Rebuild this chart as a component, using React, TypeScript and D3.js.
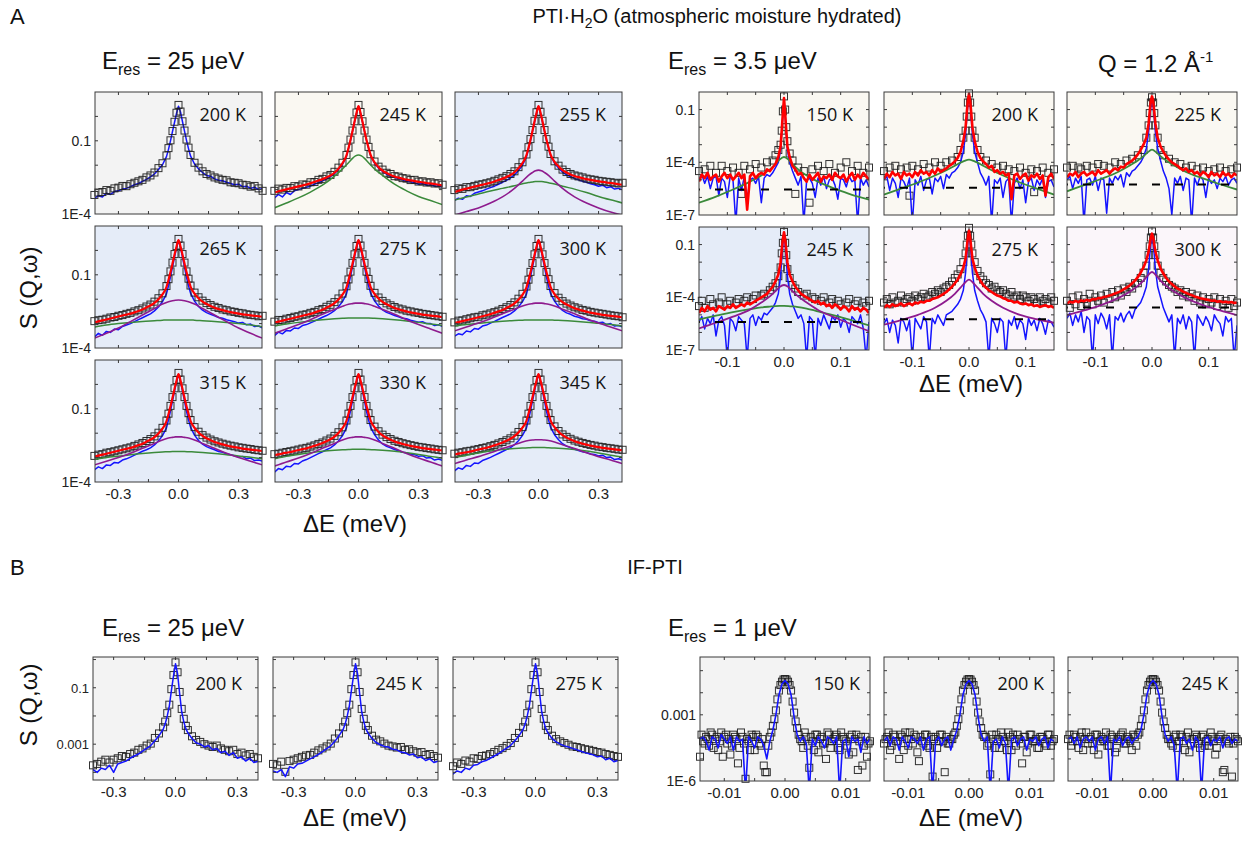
import React from "react";
import * as d3 from "d3";

// ---------------- energy grids (meV) ----------------
const E_A25 = [-0.42,-0.4,-0.38,-0.36,-0.34,-0.32,-0.3,-0.28,-0.26,-0.24,-0.22,-0.2,-0.18,-0.16,-0.14,-0.12,-0.1,-0.08,
  -0.06,-0.05,-0.04,-0.03,-0.02,-0.01,0,0.01,0.02,0.03,0.04,0.05,0.06,
  0.08,0.1,0.12,0.14,0.16,0.18,0.2,0.22,0.24,0.26,0.28,0.3,0.32,0.34,0.36,0.38,0.4,0.42];
const E_A25C = [-0.42,-0.36,-0.3,-0.24,-0.18,-0.12,-0.08,-0.05,-0.03,-0.015,0,0.015,0.03,0.05,0.08,0.12,0.18,0.24,0.3,0.36,0.42];
const E_A35 = [-0.15,-0.145,-0.14,-0.135,-0.13,-0.125,-0.12,-0.115,-0.11,-0.105,-0.1,-0.095,-0.09,-0.085,-0.08,-0.075,-0.07,-0.065,-0.06,-0.055,-0.05,-0.045,-0.04,-0.035,-0.03,-0.025,-0.02,-0.015,-0.01,
  -0.006,-0.004,-0.002,0,0.002,0.004,0.006,
  0.01,0.015,0.02,0.025,0.03,0.035,0.04,0.045,0.05,0.055,0.06,0.065,0.07,0.075,0.08,0.085,0.09,0.095,0.1,0.105,0.11,0.115,0.12,0.125,0.13,0.135,0.14,0.145,0.15];
const E_A35C = [-0.15,-0.12,-0.09,-0.06,-0.04,-0.025,-0.015,-0.008,0,0.008,0.015,0.025,0.04,0.06,0.09,0.12,0.15];
const E_B1 = [-0.014,-0.0135,-0.013,-0.0125,-0.012,-0.0115,-0.011,-0.0105,-0.01,-0.0095,-0.009,-0.0085,-0.008,-0.0075,-0.007,-0.0065,-0.006,-0.0055,-0.005,-0.0045,-0.004,-0.0035,-0.003,-0.0025,-0.002,-0.0015,-0.001,-0.0005,
  0,
  0.0005,0.001,0.0015,0.002,0.0025,0.003,0.0035,0.004,0.0045,0.005,0.0055,0.006,0.0065,0.007,0.0075,0.008,0.0085,0.009,0.0095,0.01,0.0105,0.011,0.0115,0.012,0.0125,0.013,0.0135,0.014];
const E_B1M = [-0.01375,-0.01325,-0.01275,-0.01225,-0.01175,-0.01125,-0.01075,-0.01025,-0.00975,-0.00925,-0.00875,-0.00825,-0.00775,-0.00725,-0.00675,-0.00625,-0.00575,-0.00525,-0.00475,-0.00425,-0.00375,-0.00325,-0.00275,-0.00225,-0.00175,-0.00125,-0.00075,-0.00025,
  0.00025,0.00075,0.00125,0.00175,0.00225,0.00275,0.00325,0.00375,0.00425,0.00475,0.00525,0.00575,0.00625,0.00675,0.00725,0.00775,0.00825,0.00875,0.00925,0.00975,0.01025,0.01075,0.01125,0.01175,0.01225,0.01275,0.01325,0.01375];

// ---------------- A, 25 ueV : log10 S(Q,w) ----------------
const sqA200 = [-3.22,-3.12,-3.1,-3.02,-3.05,-2.95,-2.92,-2.85,-2.86,-2.78,-2.72,-2.66,-2.6,-2.5,-2.42,-2.3,-2.12,-1.92,
  -1.6,-1.3,-0.98,-0.6,-0.22,0.15,0.47,0.2,-0.2,-0.58,-0.95,-1.28,-1.58,
  -1.9,-2.1,-2.25,-2.36,-2.42,-2.5,-2.55,-2.6,-2.62,-2.7,-2.72,-2.74,-2.8,-2.82,-2.88,-2.85,-2.95,-3.05];
const blueA200 = [-3.35,-3.25,-3.3,-3.15,-3.2,-3.08,-3.05,-2.98,-2.95,-2.88,-2.8,-2.75,-2.66,-2.58,-2.48,-2.36,-2.18,-1.98,
  -1.65,-1.35,-1.0,-0.62,-0.25,0.12,0.42,0.18,-0.22,-0.6,-0.98,-1.32,-1.62,
  -1.95,-2.15,-2.3,-2.42,-2.45,-2.56,-2.62,-2.64,-2.7,-2.75,-2.8,-2.78,-2.88,-2.86,-2.95,-2.9,-3.0,-2.95];

const sqA245 = [-3.05,-2.96,-3.0,-2.93,-2.94,-2.86,-2.87,-2.79,-2.8,-2.7,-2.69,-2.6,-2.56,-2.46,-2.4,-2.27,-2.1,-1.9,
  -1.58,-1.28,-0.95,-0.58,-0.2,0.16,0.47,0.18,-0.2,-0.58,-0.95,-1.25,-1.55,
  -1.85,-2.06,-2.18,-2.31,-2.36,-2.45,-2.47,-2.53,-2.55,-2.61,-2.6,-2.67,-2.66,-2.71,-2.7,-2.75,-2.74,-2.8];
const redA245 = [-3.12,-3.07,-3.03,-2.99,-2.95,-2.91,-2.87,-2.83,-2.79,-2.74,-2.69,-2.63,-2.57,-2.5,-2.42,-2.31,-2.14,-1.92,
  -1.6,-1.3,-0.97,-0.6,-0.22,0.14,0.42,0.14,-0.22,-0.6,-0.97,-1.28,-1.57,
  -1.88,-2.08,-2.22,-2.32,-2.4,-2.46,-2.51,-2.55,-2.59,-2.62,-2.65,-2.68,-2.7,-2.73,-2.75,-2.77,-2.8,-2.83];
const blueA245 = [-3.35,-3.2,-3.3,-3.12,-3.2,-3.05,-3.0,-2.95,-2.9,-2.85,-2.78,-2.72,-2.64,-2.56,-2.47,-2.35,-2.18,-1.97,
  -1.64,-1.33,-1.0,-0.62,-0.24,0.12,0.42,0.14,-0.24,-0.62,-0.98,-1.3,-1.6,
  -1.92,-2.12,-2.26,-2.37,-2.45,-2.5,-2.56,-2.6,-2.66,-2.68,-2.72,-2.78,-2.74,-2.82,-2.8,-2.86,-2.84,-2.9];
const greenA245 = [-3.75,-3.55,-3.34,-3.1,-2.82,-2.45,-2.15,-1.9,-1.72,-1.62,-1.58,-1.62,-1.72,-1.9,-2.15,-2.42,-2.78,-3.05,-3.28,-3.45,-3.62];

const sqA255 = [-3.02,-2.95,-2.97,-2.9,-2.9,-2.85,-2.8,-2.78,-2.74,-2.7,-2.64,-2.58,-2.52,-2.45,-2.36,-2.25,-2.08,-1.88,
  -1.56,-1.26,-0.93,-0.56,-0.18,0.17,0.47,0.19,-0.18,-0.56,-0.93,-1.24,-1.54,
  -1.84,-2.02,-2.18,-2.28,-2.36,-2.42,-2.46,-2.5,-2.55,-2.58,-2.6,-2.64,-2.66,-2.68,-2.7,-2.72,-2.75,-2.72];
const redA255 = [-3.1,-3.05,-3.0,-2.96,-2.92,-2.88,-2.84,-2.8,-2.76,-2.72,-2.67,-2.61,-2.55,-2.48,-2.4,-2.29,-2.12,-1.91,
  -1.59,-1.29,-0.96,-0.59,-0.21,0.14,0.42,0.15,-0.21,-0.59,-0.96,-1.27,-1.56,
  -1.86,-2.05,-2.2,-2.3,-2.38,-2.44,-2.49,-2.53,-2.57,-2.6,-2.63,-2.66,-2.68,-2.71,-2.73,-2.75,-2.78,-2.8];
const blueA255 = [-3.45,-3.35,-3.4,-3.25,-3.28,-3.15,-3.1,-3.05,-2.98,-2.92,-2.86,-2.78,-2.7,-2.62,-2.52,-2.4,-2.22,-2.0,
  -1.66,-1.35,-1.0,-0.62,-0.24,0.12,0.42,0.14,-0.24,-0.62,-0.98,-1.3,-1.6,
  -1.92,-2.12,-2.28,-2.4,-2.46,-2.55,-2.6,-2.66,-2.7,-2.76,-2.8,-2.86,-2.82,-2.92,-2.88,-2.98,-2.95,-3.0];
const greenA255 = [-3.43,-3.3,-3.18,-3.06,-2.95,-2.84,-2.76,-2.71,-2.69,-2.67,-2.67,-2.67,-2.69,-2.72,-2.77,-2.86,-2.98,-3.12,-3.28,-3.42,-3.55];
const purpleA255 = [-4.05,-3.9,-3.75,-3.55,-3.3,-2.95,-2.65,-2.42,-2.3,-2.23,-2.2,-2.23,-2.3,-2.42,-2.65,-2.95,-3.3,-3.55,-3.75,-3.92,-4.05];

const sqA265 = [-2.9,-2.86,-2.84,-2.8,-2.75,-2.73,-2.68,-2.65,-2.6,-2.56,-2.5,-2.45,-2.38,-2.3,-2.22,-2.1,-1.96,-1.76,
  -1.46,-1.18,-0.86,-0.5,-0.15,0.18,0.47,0.2,-0.15,-0.5,-0.86,-1.16,-1.44,
  -1.73,-1.92,-2.06,-2.16,-2.24,-2.31,-2.36,-2.42,-2.45,-2.5,-2.52,-2.56,-2.58,-2.62,-2.64,-2.66,-2.7,-2.68];
const redA265 = [-2.95,-2.91,-2.87,-2.83,-2.79,-2.75,-2.71,-2.67,-2.63,-2.59,-2.54,-2.48,-2.42,-2.34,-2.26,-2.15,-2.0,-1.8,
  -1.5,-1.21,-0.89,-0.54,-0.18,0.15,0.42,0.16,-0.18,-0.54,-0.89,-1.19,-1.48,
  -1.77,-1.96,-2.1,-2.2,-2.28,-2.35,-2.4,-2.45,-2.49,-2.53,-2.56,-2.59,-2.62,-2.64,-2.66,-2.68,-2.7,-2.72];
const blueA265 = [-3.55,-3.4,-3.48,-3.32,-3.36,-3.22,-3.25,-3.12,-3.06,-3.0,-2.92,-2.84,-2.76,-2.68,-2.6,-2.48,-2.32,-2.1,
  -1.78,-1.45,-1.08,-0.68,-0.28,0.1,0.42,0.12,-0.28,-0.68,-1.1,-1.45,-1.75,
  -2.08,-2.3,-2.45,-2.55,-2.62,-2.68,-2.75,-2.78,-2.84,-2.88,-2.92,-2.98,-2.95,-3.05,-3.02,-3.12,-3.1,-3.18];
const greenA265 = [-3.14,-3.06,-3.0,-2.95,-2.91,-2.88,-2.86,-2.85,-2.85,-2.85,-2.85,-2.85,-2.85,-2.85,-2.86,-2.88,-2.91,-2.95,-3.0,-3.06,-3.13];
const purpleA265 = [-3.6,-3.4,-3.18,-2.92,-2.65,-2.38,-2.2,-2.1,-2.06,-2.04,-2.03,-2.04,-2.06,-2.1,-2.2,-2.38,-2.65,-2.92,-3.18,-3.4,-3.6];

const sqA275 = [-2.92,-2.85,-2.86,-2.8,-2.77,-2.72,-2.7,-2.64,-2.62,-2.56,-2.52,-2.45,-2.4,-2.31,-2.23,-2.12,-1.97,-1.77,
  -1.47,-1.19,-0.87,-0.51,-0.16,0.18,0.47,0.2,-0.16,-0.51,-0.87,-1.17,-1.45,
  -1.74,-1.93,-2.07,-2.17,-2.25,-2.32,-2.38,-2.42,-2.47,-2.5,-2.54,-2.56,-2.6,-2.62,-2.65,-2.67,-2.7,-2.72];
const redA275 = [-2.96,-2.92,-2.88,-2.84,-2.8,-2.76,-2.72,-2.68,-2.64,-2.6,-2.55,-2.49,-2.43,-2.35,-2.27,-2.16,-2.01,-1.81,
  -1.51,-1.22,-0.9,-0.55,-0.19,0.15,0.42,0.16,-0.19,-0.55,-0.9,-1.2,-1.49,
  -1.78,-1.97,-2.11,-2.21,-2.29,-2.36,-2.41,-2.46,-2.5,-2.54,-2.57,-2.6,-2.63,-2.65,-2.67,-2.69,-2.71,-2.74];
const blueA275 = [-3.5,-3.35,-3.42,-3.28,-3.3,-3.18,-3.2,-3.08,-3.04,-2.97,-2.9,-2.82,-2.74,-2.67,-2.58,-2.47,-2.31,-2.1,
  -1.78,-1.44,-1.07,-0.67,-0.27,0.1,0.42,0.12,-0.27,-0.67,-1.09,-1.44,-1.74,
  -2.07,-2.28,-2.44,-2.54,-2.6,-2.67,-2.72,-2.78,-2.8,-2.86,-2.9,-2.94,-2.92,-3.0,-3.0,-3.08,-3.05,-3.12];
const greenA275 = [-3.1,-3.02,-2.95,-2.89,-2.84,-2.8,-2.78,-2.77,-2.77,-2.77,-2.77,-2.77,-2.77,-2.77,-2.78,-2.8,-2.84,-2.89,-2.95,-3.02,-3.08];
const purpleA275 = [-3.4,-3.22,-3.04,-2.84,-2.62,-2.42,-2.29,-2.21,-2.18,-2.16,-2.16,-2.16,-2.18,-2.21,-2.29,-2.42,-2.62,-2.84,-3.04,-3.22,-3.4];

const sqA300 = [-2.95,-2.88,-2.87,-2.82,-2.78,-2.74,-2.72,-2.66,-2.63,-2.58,-2.53,-2.47,-2.4,-2.33,-2.24,-2.13,-1.98,-1.78,
  -1.48,-1.2,-0.88,-0.52,-0.16,0.18,0.47,0.2,-0.16,-0.52,-0.88,-1.18,-1.46,
  -1.75,-1.94,-2.08,-2.18,-2.26,-2.33,-2.38,-2.44,-2.47,-2.52,-2.55,-2.58,-2.6,-2.63,-2.66,-2.68,-2.7,-2.74];
const redA300 = [-2.98,-2.94,-2.9,-2.86,-2.82,-2.78,-2.74,-2.7,-2.66,-2.61,-2.56,-2.5,-2.44,-2.36,-2.28,-2.17,-2.02,-1.82,
  -1.51,-1.22,-0.9,-0.55,-0.19,0.15,0.42,0.16,-0.19,-0.55,-0.9,-1.2,-1.49,
  -1.79,-1.98,-2.12,-2.22,-2.3,-2.37,-2.42,-2.47,-2.51,-2.55,-2.58,-2.61,-2.64,-2.66,-2.68,-2.7,-2.72,-2.75];
const blueA300 = [-3.52,-3.42,-3.46,-3.3,-3.34,-3.2,-3.23,-3.1,-3.06,-2.98,-2.91,-2.83,-2.75,-2.68,-2.6,-2.48,-2.32,-2.1,
  -1.79,-1.45,-1.08,-0.68,-0.28,0.1,0.42,0.12,-0.28,-0.68,-1.1,-1.45,-1.76,
  -2.08,-2.3,-2.46,-2.56,-2.62,-2.7,-2.74,-2.8,-2.82,-2.88,-2.9,-2.96,-2.94,-3.04,-3.0,-3.1,-3.08,-3.14];
const greenA300 = [-3.1,-3.04,-2.99,-2.94,-2.9,-2.87,-2.86,-2.85,-2.85,-2.85,-2.85,-2.85,-2.85,-2.85,-2.86,-2.87,-2.9,-2.94,-2.99,-3.04,-3.1];
const purpleA300 = [-3.3,-3.14,-2.98,-2.8,-2.6,-2.41,-2.28,-2.21,-2.18,-2.16,-2.16,-2.16,-2.18,-2.21,-2.28,-2.41,-2.6,-2.8,-2.98,-3.14,-3.3];

const sqA315 = [-2.93,-2.88,-2.86,-2.8,-2.78,-2.74,-2.7,-2.66,-2.62,-2.58,-2.52,-2.46,-2.4,-2.32,-2.24,-2.13,-1.98,-1.78,
  -1.48,-1.2,-0.88,-0.52,-0.16,0.18,0.47,0.2,-0.16,-0.52,-0.88,-1.18,-1.46,
  -1.75,-1.94,-2.08,-2.18,-2.26,-2.33,-2.38,-2.43,-2.47,-2.51,-2.54,-2.58,-2.6,-2.63,-2.65,-2.68,-2.7,-2.72];
const redA315 = [-2.96,-2.92,-2.88,-2.84,-2.8,-2.76,-2.72,-2.68,-2.64,-2.6,-2.55,-2.49,-2.43,-2.35,-2.27,-2.16,-2.01,-1.81,
  -1.51,-1.22,-0.9,-0.55,-0.19,0.15,0.42,0.16,-0.19,-0.55,-0.9,-1.2,-1.49,
  -1.78,-1.97,-2.11,-2.21,-2.29,-2.36,-2.41,-2.46,-2.5,-2.54,-2.57,-2.6,-2.63,-2.65,-2.67,-2.69,-2.71,-2.73];
const blueA315 = [-3.5,-3.38,-3.45,-3.3,-3.32,-3.2,-3.22,-3.1,-3.05,-2.98,-2.9,-2.82,-2.74,-2.68,-2.6,-2.48,-2.32,-2.1,
  -1.78,-1.45,-1.08,-0.68,-0.28,0.1,0.42,0.12,-0.28,-0.68,-1.1,-1.45,-1.75,
  -2.08,-2.3,-2.45,-2.55,-2.62,-2.68,-2.75,-2.78,-2.84,-2.88,-2.92,-2.98,-2.95,-3.05,-3.02,-3.12,-3.1,-3.15];
const greenA315 = [-3.08,-3.0,-2.94,-2.88,-2.83,-2.79,-2.77,-2.76,-2.75,-2.75,-2.75,-2.75,-2.75,-2.76,-2.77,-2.79,-2.83,-2.88,-2.93,-2.99,-3.05];
const purpleA315 = [-3.3,-3.15,-3.0,-2.82,-2.62,-2.42,-2.28,-2.2,-2.17,-2.15,-2.15,-2.15,-2.17,-2.2,-2.28,-2.42,-2.62,-2.82,-3.0,-3.15,-3.3];

const sqA330 = [-2.86,-2.84,-2.8,-2.77,-2.74,-2.71,-2.67,-2.63,-2.6,-2.55,-2.5,-2.44,-2.38,-2.3,-2.22,-2.11,-1.96,-1.76,
  -1.48,-1.2,-0.88,-0.52,-0.16,0.18,0.47,0.2,-0.16,-0.52,-0.88,-1.18,-1.46,
  -1.73,-1.92,-2.06,-2.16,-2.24,-2.31,-2.36,-2.41,-2.45,-2.49,-2.52,-2.56,-2.58,-2.61,-2.63,-2.66,-2.68,-2.7];
const redA330 = [-2.9,-2.87,-2.83,-2.8,-2.77,-2.73,-2.69,-2.65,-2.62,-2.57,-2.52,-2.46,-2.4,-2.33,-2.25,-2.14,-1.99,-1.79,
  -1.49,-1.2,-0.88,-0.53,-0.18,0.15,0.42,0.16,-0.18,-0.53,-0.88,-1.18,-1.47,
  -1.76,-1.95,-2.09,-2.19,-2.27,-2.34,-2.39,-2.44,-2.48,-2.52,-2.55,-2.58,-2.61,-2.63,-2.65,-2.67,-2.69,-2.71];
const blueA330 = [-3.6,-3.45,-3.5,-3.35,-3.38,-3.24,-3.26,-3.14,-3.08,-3.0,-2.92,-2.84,-2.76,-2.68,-2.6,-2.48,-2.32,-2.1,
  -1.78,-1.45,-1.08,-0.68,-0.28,0.1,0.42,0.12,-0.28,-0.68,-1.1,-1.45,-1.75,
  -2.06,-2.28,-2.44,-2.54,-2.6,-2.67,-2.72,-2.78,-2.8,-2.86,-2.88,-2.95,-2.92,-3.02,-3.0,-3.1,-3.06,-3.12];
const greenA330 = [-3.05,-2.95,-2.87,-2.8,-2.74,-2.7,-2.68,-2.67,-2.66,-2.66,-2.66,-2.66,-2.66,-2.67,-2.68,-2.7,-2.74,-2.8,-2.87,-2.95,-3.03];
const purpleA330 = [-3.35,-3.18,-3.02,-2.83,-2.62,-2.42,-2.28,-2.2,-2.17,-2.15,-2.15,-2.15,-2.17,-2.2,-2.28,-2.42,-2.62,-2.83,-3.02,-3.18,-3.35];

const sqA345 = [-2.84,-2.8,-2.78,-2.74,-2.72,-2.68,-2.65,-2.61,-2.58,-2.53,-2.48,-2.42,-2.36,-2.29,-2.21,-2.1,-1.95,-1.75,
  -1.48,-1.2,-0.88,-0.52,-0.16,0.18,0.47,0.2,-0.16,-0.52,-0.88,-1.18,-1.46,
  -1.72,-1.91,-2.05,-2.15,-2.23,-2.3,-2.35,-2.4,-2.44,-2.48,-2.51,-2.55,-2.57,-2.6,-2.62,-2.64,-2.67,-2.68];
const redA345 = [-2.87,-2.84,-2.81,-2.78,-2.75,-2.71,-2.67,-2.63,-2.6,-2.55,-2.5,-2.44,-2.38,-2.31,-2.23,-2.12,-1.97,-1.77,
  -1.49,-1.2,-0.88,-0.53,-0.18,0.15,0.42,0.16,-0.18,-0.53,-0.88,-1.18,-1.47,
  -1.75,-1.94,-2.08,-2.18,-2.26,-2.33,-2.38,-2.43,-2.47,-2.51,-2.54,-2.57,-2.6,-2.62,-2.64,-2.66,-2.68,-2.7];
const blueA345 = [-3.55,-3.42,-3.48,-3.32,-3.36,-3.22,-3.24,-3.12,-3.06,-2.99,-2.91,-2.83,-2.75,-2.67,-2.59,-2.47,-2.31,-2.09,
  -1.78,-1.45,-1.08,-0.68,-0.28,0.1,0.42,0.12,-0.28,-0.68,-1.1,-1.45,-1.75,
  -2.06,-2.27,-2.43,-2.53,-2.59,-2.66,-2.71,-2.76,-2.79,-2.85,-2.87,-2.93,-2.9,-3.0,-2.98,-3.08,-3.05,-3.1];
const greenA345 = [-3.0,-2.9,-2.81,-2.73,-2.67,-2.63,-2.61,-2.6,-2.59,-2.59,-2.59,-2.59,-2.59,-2.6,-2.61,-2.63,-2.67,-2.73,-2.81,-2.9,-2.98];
const purpleA345 = [-3.25,-3.1,-2.96,-2.8,-2.63,-2.47,-2.36,-2.3,-2.28,-2.27,-2.27,-2.27,-2.28,-2.3,-2.36,-2.47,-2.63,-2.8,-2.96,-3.1,-3.25];

// ---------------- A, 3.5 ueV : log10 S(Q,w) ----------------
const sqR150 = [-4.5,null,-4.4,null,-4.2,null,-4.6,null,-4.2,null,-4.5,null,-4.3,null,-4.6,-5.8,-4.2,null,-4.4,null,-4.1,null,-4.3,null,-4.0,null,-3.9,-3.6,-3.3,
  -3.0,-2.2,-1.1,-0.25,-1.0,-2.0,-2.8,
  -3.5,-3.9,-5.8,-4.3,null,-4.5,null,-6.3,-4.4,null,-4.2,null,-4.5,null,-4.1,null,-4.6,null,-4.3,null,-4.0,null,-4.5,null,-4.2,null,-4.6,null,-4.3];
const redR150 = [-5.1,-4.7,-4.9,-4.6,-5.0,-4.8,-4.7,-5.1,-4.8,-4.6,-4.9,-4.7,-5.0,-4.8,-4.6,-4.9,-4.7,-6.7,-4.8,-4.6,-4.9,-4.7,-4.6,-4.7,-4.4,-4.5,-4.3,-4.1,-3.7,
  -3.1,-2.2,-1.2,-0.34,-1.2,-2.2,-3.1,
  -3.7,-4.2,-4.4,-4.7,-4.6,-4.9,-5.1,-4.7,-5.0,-4.8,-4.6,-5.1,-4.8,-4.9,-4.7,-5.0,-4.6,-4.8,-4.9,-4.7,-5.1,-4.8,-4.6,-5.0,-4.7,-4.9,-4.6,-4.8,-5.0];
const blueR150 = [-5.0,-4.7,-5.2,-4.8,-5.5,-4.9,-4.8,-5.9,-4.9,-5.1,-6.0,-4.8,-5.0,-7.5,-4.9,-5.6,-4.8,-6.1,-5.0,-4.9,-5.2,-4.8,-6.3,-4.9,-4.7,-4.8,-4.6,-4.3,-4.0,
  -3.3,-2.3,-1.3,-0.5,-1.3,-2.3,-3.3,
  -4.0,-4.5,-4.9,-5.3,-4.8,-7.5,-5.0,-4.9,-5.2,-6.0,-4.9,-5.3,-4.8,-5.5,-5.0,-4.9,-5.3,-6.1,-4.9,-5.0,-5.4,-4.8,-5.1,-5.0,-7.5,-4.9,-5.3,-5.0,-5.4];
const greenR150 = [-6.3,-5.95,-5.55,-5.1,-4.75,-4.4,-4.1,-3.85,-3.7,-3.85,-4.1,-4.4,-4.75,-5.1,-5.5,-5.85,-6.12];
const bgR150 = -5.55;

const sqR200 = [-4.5,null,-4.3,null,-4.2,null,-4.4,null,-4.3,-5.9,-4.2,null,-4.4,null,-4.1,null,-4.3,null,-4.0,null,-4.2,null,-4.0,null,-3.9,null,-3.7,-3.3,-2.6,
  -2.2,-1.4,-0.6,-0.08,-0.6,-1.4,-2.2,
  -2.6,-3.3,-3.7,null,-3.9,null,-4.1,null,-4.3,null,-4.2,null,-4.4,null,-4.5,null,-4.3,null,-4.6,null,-4.4,-5.7,-4.5,null,-4.3,null,-4.6,null,-4.4];
const redR200 = [-4.95,-4.65,-4.85,-4.55,-4.75,-4.65,-4.95,-4.55,-4.75,-4.65,-4.85,-4.55,-4.75,-4.45,-4.65,-4.55,-4.75,-4.45,-4.65,-4.35,-4.55,-4.45,-4.35,-4.2,-4.1,-3.95,-3.75,-3.4,-2.8,
  -2.0,-1.2,-0.5,-0.1,-0.5,-1.2,-2.0,
  -2.8,-3.4,-3.75,-3.95,-4.1,-4.3,-4.2,-4.55,-4.45,-4.65,-4.55,-4.75,-4.65,-6.1,-4.75,-4.65,-4.95,-4.75,-4.65,-5.05,-4.75,-4.85,-4.65,-4.95,-4.75,-5.9,-4.85,-4.65,-4.95];
const blueR200 = [-5.0,-4.8,-5.6,-4.9,-5.2,-6.0,-4.9,-5.1,-5.5,-4.9,-7.5,-5.0,-5.3,-4.8,-5.6,-5.0,-4.9,-5.8,-4.9,-5.1,-4.8,-5.5,-4.7,-4.9,-4.6,-4.5,-4.3,-4.0,-3.4,
  -2.4,-1.5,-0.7,-0.3,-0.7,-1.5,-2.4,
  -3.4,-4.0,-4.6,-4.9,-5.3,-4.8,-7.5,-5.0,-5.2,-4.9,-6.0,-5.1,-4.9,-7.5,-5.2,-4.9,-5.5,-5.0,-6.3,-5.1,-4.9,-5.6,-5.0,-5.3,-4.9,-6.0,-5.1,-5.0,-5.4];
const greenR200 = [-5.84,-5.5,-5.15,-4.75,-4.45,-4.2,-4.02,-3.92,-3.85,-3.92,-4.02,-4.2,-4.45,-4.75,-5.15,-5.5,-5.84];
const bgR200 = -5.45;

const sqR225 = [-4.3,null,-4.2,null,-4.3,-4.4,null,-4.2,null,-4.3,null,-4.1,null,-4.2,null,-4.3,null,-4.0,null,-4.1,null,-3.9,null,-3.8,null,-3.6,null,-3.3,-2.6,
  -1.9,-1.2,-0.6,-0.3,-0.6,-1.2,-1.9,
  -2.6,-3.3,-3.6,null,-3.8,null,-4.0,null,-4.1,null,-4.3,null,-4.2,null,-4.4,null,-4.3,null,-4.5,null,-4.4,null,-4.3,null,-4.5,null,-4.4,null,-4.3];
const redR225 = [-4.85,-4.65,-4.75,-4.55,-4.85,-4.65,-4.55,-4.75,-4.65,-4.55,-4.75,-4.45,-4.65,-4.55,-4.45,-4.65,-4.45,-4.35,-4.45,-4.25,-4.3,-4.1,-4.0,-3.9,-3.75,-3.55,-3.3,-3.0,-2.6,
  -1.8,-1.1,-0.5,-0.25,-0.5,-1.1,-1.8,
  -2.6,-3.1,-3.4,-3.65,-3.85,-4.0,-4.1,-4.2,-4.35,-4.45,-4.35,-4.55,-4.45,-4.65,-4.55,-4.75,-4.55,-4.65,-4.85,-4.55,-4.75,-4.65,-4.85,-4.55,-4.75,-4.65,-4.85,-4.65,-4.75];
const blueR225 = [-5.0,-4.8,-5.5,-4.9,-5.2,-4.8,-7.5,-5.0,-4.9,-5.3,-4.8,-5.6,-4.9,-5.0,-6.9,-4.9,-5.2,-4.8,-5.0,-4.7,-5.4,-4.6,-4.8,-4.5,-4.4,-4.2,-4.0,-3.7,-3.2,
  -2.3,-1.5,-0.8,-0.4,-0.8,-1.5,-2.3,
  -3.2,-3.9,-4.5,-4.9,-5.5,-7.0,-4.9,-5.2,-4.8,-5.6,-4.9,-5.0,-7.5,-4.9,-5.3,-4.8,-5.0,-6.0,-4.9,-5.2,-5.0,-5.5,-4.9,-5.1,-4.8,-5.3,-5.0,-4.9,-5.2];
const greenR225 = [-5.65,-5.3,-4.95,-4.55,-4.2,-3.9,-3.65,-3.45,-3.28,-3.45,-3.65,-3.9,-4.2,-4.55,-4.92,-5.25,-5.55];
const bgR225 = -5.27;

const sqR245 = [-4.5,-4.2,-4.6,null,-4.1,-4.4,null,-4.3,-4.0,null,-4.4,-4.2,null,-4.3,-4.1,null,-4.2,-4.0,null,-4.1,-3.9,null,-3.9,-3.8,null,-3.6,-3.4,-3.2,-2.8,
  -2.3,-1.5,-0.9,-0.28,-0.9,-1.6,-2.4,
  -2.9,-3.3,-3.5,-3.7,null,-3.9,-3.8,null,-4.0,-4.1,null,-4.2,-4.0,null,-4.3,-4.1,null,-4.2,-4.4,null,-4.3,-4.1,null,-4.4,-4.2,null,-4.3,-4.5,-4.2];
const redR245 = [-4.9,-4.6,-4.8,-4.5,-4.7,-4.6,-4.8,-4.5,-4.6,-4.7,-4.5,-4.6,-4.4,-4.6,-4.5,-4.4,-4.5,-4.3,-4.4,-4.3,-4.2,-4.1,-4.0,-3.9,-3.8,-3.6,-3.4,-3.1,-2.7,
  -2.0,-1.3,-0.7,-0.3,-0.7,-1.3,-2.0,
  -2.7,-3.1,-3.4,-3.6,-3.8,-3.9,-4.0,-4.1,-4.2,-4.3,-4.2,-4.4,-4.3,-4.5,-4.4,-4.6,-4.4,-4.5,-4.7,-4.5,-4.6,-4.8,-4.5,-4.7,-4.6,-4.8,-4.6,-4.7,-4.9];
const blueR245 = [-5.4,-5.1,-5.8,-5.2,-5.5,-5.0,-6.2,-5.3,-5.1,-5.6,-7.5,-5.2,-5.4,-5.9,-5.1,-5.3,-5.5,-7.5,-5.2,-5.0,-5.6,-5.1,-5.3,-4.9,-5.0,-4.8,-4.6,-4.3,-3.8,
  -2.8,-1.8,-1.0,-0.4,-1.0,-1.8,-2.8,
  -3.8,-4.4,-4.8,-5.2,-5.0,-5.5,-7.5,-5.1,-5.3,-7.5,-5.2,-5.6,-5.0,-5.4,-5.8,-5.1,-5.3,-5.0,-5.7,-5.2,-5.4,-6.0,-5.1,-5.3,-5.5,-5.0,-5.8,-7.5,-5.4];
const greenR245 = [-5.26,-5.05,-4.85,-4.68,-4.58,-4.53,-4.5,-4.49,-4.49,-4.5,-4.52,-4.56,-4.65,-4.8,-5.05,-5.32,-5.6];
const purpleR245 = [-5.77,-5.45,-5.1,-4.7,-4.3,-3.95,-3.65,-3.42,-3.3,-3.42,-3.65,-3.95,-4.3,-4.72,-5.15,-5.55,-5.93];
const bgR245 = -5.4;

const sqR275 = [-4.3,-4.1,-4.4,-4.0,-4.3,-4.2,-3.9,-4.3,-4.1,-4.0,-4.2,-3.9,-4.1,-4.0,-3.8,-4.0,-3.9,-3.7,-3.8,-3.6,-3.7,-3.5,-3.4,-3.3,-3.1,-2.9,-2.7,-2.4,-2.0,
  -1.5,-1.0,-0.5,-0.05,-0.5,-1.0,-1.5,
  -2.0,-2.5,-2.8,-3.0,-3.2,-3.3,-3.5,-3.4,-3.6,-3.7,-3.6,-3.8,-3.9,-3.7,-4.0,-3.9,-4.1,-3.9,-4.0,-4.2,-4.0,-4.1,-4.3,-4.0,-4.2,-4.1,-4.3,-4.0,-4.2];
const redR275 = [-4.6,-4.45,-4.55,-4.4,-4.5,-4.45,-4.35,-4.5,-4.4,-4.35,-4.45,-4.3,-4.35,-4.25,-4.3,-4.2,-4.2,-4.1,-4.05,-4.0,-3.9,-3.8,-3.7,-3.55,-3.4,-3.2,-3.0,-2.7,-2.3,
  -1.8,-1.2,-0.6,-0.2,-0.6,-1.2,-1.8,
  -2.3,-2.75,-3.05,-3.3,-3.45,-3.6,-3.7,-3.8,-3.9,-3.95,-4.05,-4.1,-4.2,-4.2,-4.3,-4.25,-4.35,-4.4,-4.35,-4.45,-4.4,-4.5,-4.45,-4.55,-4.5,-4.45,-4.55,-4.5,-4.6];
const blueR275 = [-5.5,-5.2,-6.0,-5.3,-5.6,-6.6,-5.2,-5.4,-5.9,-5.3,-7.5,-5.2,-5.5,-5.8,-5.1,-5.4,-7.5,-5.2,-5.5,-5.0,-5.3,-5.6,-5.0,-4.9,-4.8,-4.6,-4.4,-4.1,-3.6,
  -2.6,-1.7,-0.9,-0.3,-0.9,-1.7,-2.6,
  -3.6,-4.2,-4.7,-5.0,-5.4,-7.5,-5.2,-5.5,-6.0,-5.2,-5.4,-7.5,-5.3,-5.6,-5.1,-5.8,-5.3,-5.5,-6.4,-5.2,-5.6,-5.3,-5.9,-5.2,-5.5,-6.1,-5.3,-5.4,-5.7];
const purpleR275 = [-5.56,-5.3,-5.0,-4.6,-4.2,-3.8,-3.45,-3.2,-3.0,-3.2,-3.45,-3.8,-4.2,-4.6,-5.0,-5.25,-5.45];
const bgR275 = -5.25;

const sqR300 = [-4.2,-4.6,-4.0,-4.4,-3.9,-4.5,-4.1,-4.3,-3.8,-4.4,-4.0,-4.2,-3.9,-4.3,-3.8,-4.1,-3.7,-4.0,-3.6,-3.9,-3.5,-3.7,-3.4,-3.5,-3.2,-3.2,-2.9,-2.6,-2.2,
  -1.6,-1.1,-0.6,-0.25,-0.6,-1.1,-1.6,
  -2.2,-2.6,-2.9,-3.1,-3.3,-3.4,-3.5,-3.7,-3.6,-3.9,-3.7,-4.0,-3.8,-4.2,-3.9,-4.3,-4.0,-4.4,-4.1,-4.3,-4.0,-4.5,-4.1,-4.4,-4.2,-4.6,-4.1,-4.5,-4.3];
const redR300 = [-4.35,-4.25,-4.3,-4.2,-4.28,-4.18,-4.22,-4.15,-4.2,-4.1,-4.12,-4.05,-4.05,-3.98,-3.95,-3.9,-3.85,-3.78,-3.72,-3.65,-3.55,-3.45,-3.35,-3.2,-3.05,-2.85,-2.6,-2.3,-1.9,
  -1.4,-1.0,-0.6,-0.38,-0.6,-1.0,-1.4,
  -1.9,-2.35,-2.65,-2.9,-3.1,-3.25,-3.38,-3.5,-3.58,-3.68,-3.75,-3.82,-3.88,-3.95,-4.0,-4.05,-4.08,-4.12,-4.15,-4.2,-4.18,-4.25,-4.22,-4.28,-4.25,-4.3,-4.27,-4.33,-4.3];
const blueR300 = [-5.2,-4.9,-5.6,-5.0,-5.4,-4.8,-6.0,-5.1,-5.3,-7.5,-5.0,-5.5,-4.9,-5.2,-5.8,-5.0,-7.5,-5.1,-5.3,-4.9,-5.4,-5.0,-4.8,-5.2,-4.7,-4.5,-4.3,-3.9,-3.4,
  -2.4,-1.6,-0.9,-0.5,-0.9,-1.6,-2.4,
  -3.4,-4.0,-4.6,-5.0,-5.4,-5.0,-7.5,-5.2,-5.5,-5.0,-5.8,-5.1,-5.4,-7.5,-5.0,-5.3,-5.6,-5.1,-5.4,-5.9,-5.0,-5.3,-5.5,-6.2,-5.1,-5.4,-5.2,-7.5,-5.6];
const purpleR300 = [-5.02,-4.75,-4.45,-4.05,-3.7,-3.35,-3.05,-2.78,-2.56,-2.78,-3.05,-3.35,-3.7,-4.05,-4.45,-4.75,-5.02];
const bgR300 = -4.58;

// ---------------- B, 25 ueV ----------------
const sqB200 = [-3.8,-3.75,-3.7,-3.62,-3.55,-3.65,-3.55,-3.5,-3.42,-3.45,-3.35,-3.3,-3.2,-3.15,-3.05,-2.98,-2.78,-2.62,
  -2.4,-2.2,-1.9,-1.6,-1.05,-0.55,-0.1,-0.45,-1.15,-1.75,-2.1,-2.35,-2.5,
  -2.72,-2.85,-2.92,-3.0,-3.05,-3.1,-3.05,-3.15,-3.2,-3.25,-3.2,-3.35,-3.3,-3.4,-3.35,-3.45,-3.5,-3.55];
const blueB200 = [-4.3,-3.9,-4.0,-3.85,-3.9,-3.75,-4.0,-3.7,-3.65,-3.6,-3.5,-3.42,-3.35,-3.25,-3.15,-3.05,-2.88,-2.7,
  -2.48,-2.28,-2.0,-1.65,-1.1,-0.6,-0.15,-0.5,-1.2,-1.85,-2.2,-2.45,-2.6,
  -2.8,-2.95,-3.0,-3.1,-3.05,-3.2,-3.15,-3.3,-3.25,-3.4,-3.3,-3.5,-3.45,-3.6,-3.5,-3.65,-3.6,-3.75];
const sqB245 = [-3.82,-3.7,-3.75,-3.62,-3.98,-3.6,-3.55,-3.5,-3.45,-3.4,-3.38,-3.3,-3.22,-3.15,-3.08,-2.98,-2.8,-2.62,
  -2.4,-2.2,-1.9,-1.6,-1.05,-0.55,-0.1,-0.45,-1.15,-1.75,-2.1,-2.35,-2.5,
  -2.7,-2.84,-2.9,-2.98,-3.05,-3.08,-3.12,-3.1,-3.2,-3.18,-3.25,-3.3,-3.28,-3.38,-3.35,-3.42,-3.48,-3.52];
const blueB245 = [-4.35,-3.95,-4.0,-3.9,-4.15,-3.8,-3.85,-3.7,-3.68,-3.6,-3.52,-3.45,-3.36,-3.26,-3.16,-3.06,-2.9,-2.7,
  -2.48,-2.28,-2.0,-1.65,-1.1,-0.6,-0.15,-0.5,-1.2,-1.85,-2.2,-2.45,-2.6,
  -2.8,-2.94,-3.02,-3.08,-3.1,-3.18,-3.2,-3.28,-3.3,-3.38,-3.35,-3.48,-3.45,-3.58,-3.52,-3.65,-3.6,-3.72];
const sqB275 = [-3.75,-3.78,-3.65,-3.7,-3.58,-3.62,-3.5,-3.52,-3.42,-3.4,-3.35,-3.28,-3.2,-3.14,-3.06,-2.96,-2.78,-2.6,
  -2.4,-2.2,-1.9,-1.6,-1.05,-0.55,-0.1,-0.45,-1.15,-1.75,-2.1,-2.35,-2.5,
  -2.7,-2.82,-2.9,-2.96,-3.02,-3.08,-3.1,-3.14,-3.18,-3.2,-3.24,-3.28,-3.3,-3.35,-3.38,-3.42,-3.45,-3.5];
const blueB275 = [-4.3,-4.05,-3.95,-4.0,-3.85,-3.9,-3.75,-3.72,-3.62,-3.58,-3.5,-3.42,-3.34,-3.24,-3.14,-3.04,-2.88,-2.7,
  -2.48,-2.28,-2.0,-1.65,-1.1,-0.6,-0.15,-0.5,-1.2,-1.85,-2.2,-2.45,-2.6,
  -2.8,-2.92,-3.0,-3.06,-3.1,-3.15,-3.2,-3.25,-3.3,-3.34,-3.38,-3.45,-3.42,-3.55,-3.5,-3.62,-3.58,-3.75];

// ---------------- B, 1 ueV ----------------
const sqBR150 = [-4.9,-4.2,-4.0,-4.4,-3.9,-4.1,-4.6,-3.8,-4.0,-4.3,-4.8,-3.9,-4.1,-4.5,-4.0,-5.9,-4.2,-3.9,-4.6,-4.0,-4.4,-5.3,-5.6,-4.0,-3.5,-2.8,-1.9,-1.5,
  -1.38,
  -1.5,-1.9,-2.9,-3.6,-4.1,-4.5,-4.0,-5.4,-4.2,-3.9,-4.7,-4.0,-4.3,-3.8,-4.5,-4.1,-3.9,-4.6,-4.0,-4.2,-4.8,-3.9,-4.1,-5.5,-4.0,-4.4,-4.9,-4.2];
const sqBR150m = [-3.9,-4.3,-4.1,-3.8,-4.5,-4.0,-4.2,-4.9,-3.9,-4.1,-4.4,-4.0,-5.2,-3.8,-4.3,-4.1,-4.6,-4.0,-3.9,-4.3,-4.1,-5.6,-4.4,-3.8,-3.2,-2.3,-1.65,-1.4,
  -1.4,-1.65,-2.4,-3.3,-3.9,-4.2,-3.8,-4.4,-4.0,-4.6,-3.9,-4.1,-4.3,-5.0,-3.9,-4.2,-4.0,-4.5,-3.8,-4.1,-4.4,-4.0,-4.7,-3.9,-4.2,-5.3,-4.0,-4.3];
const blueBR150 = [-4.1,-4.0,-4.2,-4.6,-4.0,-4.1,-4.5,-3.9,-4.1,-4.3,-4.0,-4.6,-4.0,-4.2,-4.1,-6.5,-4.0,-4.2,-4.5,-4.0,-4.1,-4.4,-5.0,-4.2,-3.7,-3.0,-2.1,-1.6,
  -1.45,
  -1.6,-2.1,-3.1,-3.9,-4.2,-4.0,-4.3,-6.5,-4.1,-4.4,-4.0,-4.2,-4.5,-4.0,-4.1,-4.3,-4.0,-6.5,-4.2,-4.1,-4.9,-4.0,-4.2,-4.1,-4.7,-4.0,-4.3,-4.1];
const sqBR200 = [-4.3,-4.0,-4.6,-3.9,-4.2,-5.0,-4.0,-3.8,-4.4,-4.1,-3.9,-4.7,-4.0,-4.3,-3.9,-4.5,-5.8,-4.0,-4.2,-3.9,-5.6,-4.3,-4.1,-3.9,-3.5,-2.8,-1.9,-1.5,
  -1.38,
  -1.5,-1.9,-2.9,-3.6,-4.0,-4.4,-5.7,-4.1,-3.9,-4.5,-4.0,-4.2,-3.8,-4.6,-4.1,-3.9,-4.3,-4.0,-4.7,-3.9,-4.2,-4.1,-4.5,-4.0,-4.3,-3.9,-4.4,-4.1];
const sqBR200m = [-4.1,-3.8,-4.4,-4.0,-4.2,-3.9,-4.6,-4.1,-3.8,-4.3,-4.0,-5.1,-4.2,-3.9,-4.4,-4.0,-4.1,-4.5,-3.9,-4.2,-4.0,-4.3,-4.1,-3.8,-3.2,-2.3,-1.65,-1.4,
  -1.4,-1.65,-2.4,-3.3,-3.9,-4.0,-4.3,-3.9,-4.5,-4.1,-3.8,-4.2,-4.6,-4.0,-3.9,-4.4,-4.1,-5.2,-4.0,-4.3,-3.9,-4.2,-4.5,-4.0,-4.1,-4.4,-3.9,-4.2];
const blueBR200 = [-4.2,-4.0,-4.4,-4.0,-4.1,-4.6,-4.0,-4.2,-4.5,-4.0,-4.1,-4.3,-4.0,-4.6,-4.1,-4.0,-6.5,-4.2,-4.0,-4.4,-4.1,-4.0,-4.6,-4.1,-3.7,-3.0,-2.1,-1.6,
  -1.45,
  -1.6,-2.1,-3.1,-3.9,-4.2,-4.0,-6.5,-4.2,-4.1,-4.5,-4.0,-4.3,-6.5,-4.1,-4.0,-4.4,-4.1,-4.0,-4.6,-4.1,-4.2,-4.0,-4.4,-4.1,-4.0,-4.5,-4.1,-4.2];
const sqBR245 = [-4.1,-4.4,-3.9,-4.2,-4.0,-4.6,-3.8,-4.1,-4.3,-3.9,-4.8,-4.0,-4.2,-4.4,-3.9,-4.1,-4.5,-4.0,-3.8,-4.3,-4.1,-4.6,-4.0,-3.9,-3.5,-2.8,-1.9,-1.5,
  -1.38,
  -1.5,-1.9,-2.9,-3.6,-4.1,-4.3,-4.0,-4.5,-3.9,-4.2,-4.0,-4.7,-4.1,-3.9,-4.3,-4.0,-4.4,-4.1,-3.8,-4.2,-4.5,-4.0,-5.6,-4.1,-4.3,-5.8,-4.0,-4.2];
const sqBR245m = [-3.9,-4.2,-4.0,-4.5,-3.8,-4.1,-4.3,-4.0,-4.6,-3.9,-4.2,-4.1,-3.8,-4.4,-4.0,-4.7,-4.1,-3.9,-4.3,-4.0,-4.2,-3.9,-4.4,-3.8,-3.2,-2.3,-1.65,-1.4,
  -1.4,-1.65,-2.4,-3.3,-3.9,-4.1,-4.4,-3.9,-4.2,-4.0,-4.6,-3.8,-4.3,-4.1,-4.0,-4.5,-3.9,-4.2,-4.4,-4.0,-4.8,-4.1,-3.9,-5.5,-4.2,-4.0,-4.3,-4.1];
const blueBR245 = [-4.1,-4.0,-4.3,-4.0,-4.5,-4.1,-4.0,-4.2,-4.0,-4.6,-4.1,-4.0,-4.3,-4.0,-6.5,-4.1,-4.2,-4.0,-4.4,-4.1,-4.0,-4.3,-4.1,-4.0,-3.7,-3.0,-2.1,-1.6,
  -1.45,
  -1.6,-2.1,-3.1,-3.9,-4.2,-4.0,-4.4,-6.5,-4.1,-4.0,-4.3,-4.1,-4.6,-4.0,-4.2,-6.5,-4.1,-4.0,-4.4,-4.1,-4.2,-4.0,-4.5,-4.1,-4.0,-4.3,-4.1,-4.2];

// ---------------- labels / ticks ----------------
const T_AL = ["200 K","245 K","255 K","265 K","275 K","300 K","315 K","330 K","345 K"];
const T_AR = ["150 K","200 K","225 K","245 K","275 K","300 K"];
const T_BL = ["200 K","245 K","275 K"];
const T_BR = ["150 K","200 K","245 K"];
const XT_A25 = [-0.3,-0.15,0,0.15,0.3];
const XT_A35 = [-0.1,-0.05,0,0.05,0.1];
const XT_B1 = [-0.01,-0.005,0,0.005,0.01];
const XL_25: [number,string][] = [[-0.3,"-0.3"],[0,"0.0"],[0.3,"0.3"]];
const XL_35: [number,string][] = [[-0.1,"-0.1"],[0,"0.0"],[0.1,"0.1"]];
const XL_1: [number,string][] = [[-0.01,"-0.01"],[0,"0.00"],[0.01,"0.01"]];
const YL_AL: [number,string][] = [[-1,"0.1"],[-4,"1E-4"]];
const YL_AR: [number,string][] = [[-1,"0.1"],[-4,"1E-4"],[-7,"1E-7"]];
const YL_BL: [number,string][] = [[-1,"0.1"],[-3,"0.001"]];
const YL_BR: [number,string][] = [[-3,"0.001"],[-6,"1E-6"]];

// ---------------- styles ----------------
const FONT = "'Liberation Sans', Arial, Helvetica, sans-serif";
const TFONT = "'Open Sans', 'Noto Sans', sans-serif";
const BLUE = "#1414ff", RED = "#ff0000", GREEN = "#3b8a3b", PURPLE = "#8e1b8e", SQ = "#1c1c1c";
const BG_GRAY = "#f3f3f3", BG_CREAM = "#faf8f2", BG_BLUE = "#e5ecf8", BG_PINK = "#fbf6fa";

type Row = (number | null)[];
interface Ser { kind: "sq" | "line" | "dash"; e?: number[]; v?: Row; level?: number; color?: string; width?: number; smooth?: boolean; }
interface Panel {
  x0: number; y0: number; w: number; h: number; xd: number[]; yd: number[]; bg: string; T: string;
  tx: number; ty: number; xt: number[]; yl: [number, string][]; xl: [number, string][]; ylSize: number; xlSize: number; series: Ser[];
}

const problems: string[] = [];
function chk(name: string, s: Ser) {
  if (s.e && s.v && s.e.length !== s.v.length) problems.push(`${name}:${s.v.length}/${s.e.length}`);
  return s;
}

// ---- A left (25 ueV) ----
const AL_SRC = [
  { sq: sqA200, blue: blueA200, bg: BG_GRAY },
  { sq: sqA245, red: redA245, blue: blueA245, green: greenA245, bg: BG_CREAM },
  { sq: sqA255, red: redA255, blue: blueA255, green: greenA255, purple: purpleA255, bg: BG_BLUE },
  { sq: sqA265, red: redA265, blue: blueA265, green: greenA265, purple: purpleA265, bg: BG_BLUE },
  { sq: sqA275, red: redA275, blue: blueA275, green: greenA275, purple: purpleA275, bg: BG_BLUE },
  { sq: sqA300, red: redA300, blue: blueA300, green: greenA300, purple: purpleA300, bg: BG_BLUE },
  { sq: sqA315, red: redA315, blue: blueA315, green: greenA315, purple: purpleA315, bg: BG_BLUE },
  { sq: sqA330, red: redA330, blue: blueA330, green: greenA330, purple: purpleA330, bg: BG_BLUE },
  { sq: sqA345, red: redA345, blue: blueA345, green: greenA345, purple: purpleA345, bg: BG_BLUE },
] as any[];
const AL_X = [95, 275, 455], AL_Y = [92, 226, 360];
const AL: Panel[] = AL_SRC.map((d, i) => {
  const s: Ser[] = [];
  s.push(chk("blueAL" + i, { kind: "line", e: E_A25, v: d.blue, color: BLUE, width: 1.5 }));
  s.push(chk("sqAL" + i, { kind: "sq", e: E_A25, v: d.sq }));
  if (d.green) s.push(chk("grAL" + i, { kind: "line", e: E_A25C, v: d.green, color: GREEN, width: 1.5, smooth: true }));
  if (d.purple) s.push(chk("puAL" + i, { kind: "line", e: E_A25C, v: d.purple, color: PURPLE, width: 1.6, smooth: true }));
  if (d.red) s.push(chk("redAL" + i, { kind: "line", e: E_A25, v: d.red, color: RED, width: 2.2, smooth: true }));
  const c = i % 3, r = Math.floor(i / 3);
  return { x0: AL_X[c], y0: AL_Y[r], w: 167, h: 122, xd: [-0.417, 0.417], yd: [-4, 1], bg: d.bg, T: T_AL[i], tx: 16, ty: 29,
    xt: XT_A25, yl: c === 0 ? YL_AL : [], xl: r === 2 ? XL_25 : [], ylSize: 14, xlSize: 15, series: s };
});

// ---- A right (3.5 ueV) ----
const AR_SRC = [
  { sq: sqR150, red: redR150, blue: blueR150, green: greenR150, bgl: bgR150, bg: BG_CREAM },
  { sq: sqR200, red: redR200, blue: blueR200, green: greenR200, bgl: bgR200, bg: BG_CREAM },
  { sq: sqR225, red: redR225, blue: blueR225, green: greenR225, bgl: bgR225, bg: BG_CREAM },
  { sq: sqR245, red: redR245, blue: blueR245, green: greenR245, purple: purpleR245, bgl: bgR245, bg: BG_BLUE },
  { sq: sqR275, red: redR275, blue: blueR275, purple: purpleR275, bgl: bgR275, bg: BG_PINK },
  { sq: sqR300, red: redR300, blue: blueR300, purple: purpleR300, bgl: bgR300, bg: BG_PINK },
] as any[];
const AR_X = [699, 884, 1067], AR_Y = [92, 227];
const AR: Panel[] = AR_SRC.map((d, i) => {
  const s: Ser[] = [];
  s.push(chk("sqAR" + i, { kind: "sq", e: E_A35, v: d.sq }));
  s.push(chk("blueAR" + i, { kind: "line", e: E_A35, v: d.blue, color: BLUE, width: 1.5 }));
  if (d.green) s.push(chk("grAR" + i, { kind: "line", e: E_A35C, v: d.green, color: GREEN, width: 1.8, smooth: true }));
  if (d.purple) s.push(chk("puAR" + i, { kind: "line", e: E_A35C, v: d.purple, color: PURPLE, width: 1.8, smooth: true }));
  s.push({ kind: "dash", level: d.bgl });
  s.push(chk("redAR" + i, { kind: "line", e: E_A35, v: d.red, color: RED, width: 2.6 }));
  const c = i % 3, r = Math.floor(i / 3);
  return { x0: AR_X[c], y0: AR_Y[r], w: 170, h: 123, xd: [-0.15, 0.15], yd: [-7, 0], bg: d.bg, T: T_AR[i], tx: 16, ty: 29,
    xt: XT_A35, yl: c === 0 ? YL_AR : [], xl: r === 1 ? XL_35 : [], ylSize: 14, xlSize: 15, series: s };
});

// ---- B left (25 ueV) ----
const BL_SRC = [ { sq: sqB200, blue: blueB200 }, { sq: sqB245, blue: blueB245 }, { sq: sqB275, blue: blueB275 } ];
const BL_X = [93, 273, 453];
const BL: Panel[] = BL_SRC.map((d, i) => ({
  x0: BL_X[i], y0: 657, w: 165, h: 123, xd: [-0.4, 0.4], yd: [-4.27, 0.09], bg: BG_GRAY, T: T_BL[i], tx: 16, ty: 33,
  xt: XT_A25, yl: i === 0 ? YL_BL : [], xl: XL_25, ylSize: 13, xlSize: 15,
  series: [chk("sqBL" + i, { kind: "sq", e: E_A25, v: d.sq }), chk("blBL" + i, { kind: "line", e: E_A25, v: d.blue, color: BLUE, width: 1.5 })],
}));

// ---- B right (1 ueV) ----
const BR_SRC = [
  { sq: sqBR150, sqm: sqBR150m, blue: blueBR150 },
  { sq: sqBR200, sqm: sqBR200m, blue: blueBR200 },
  { sq: sqBR245, sqm: sqBR245m, blue: blueBR245 },
];
const BR_X = [700, 884, 1068];
const BR: Panel[] = BR_SRC.map((d, i) => ({
  x0: BR_X[i], y0: 657, w: 170, h: 124, xd: [-0.014, 0.014], yd: [-6, -0.38], bg: BG_GRAY, T: T_BR[i], tx: 10, ty: 33,
  xt: XT_B1, yl: i === 0 ? YL_BR : [], xl: XL_1, ylSize: 14, xlSize: 15,
  series: [
    chk("sqBR" + i, { kind: "sq", e: E_B1, v: d.sq }),
    chk("sqmBR" + i, { kind: "sq", e: E_B1M, v: d.sqm }),
    chk("blBR" + i, { kind: "line", e: E_B1, v: d.blue, color: BLUE, width: 1.6 }),
  ],
}));

function PanelView({ p, id }: { p: Panel; id: string }) {
  const x = d3.scaleLinear().domain(p.xd).range([p.x0, p.x0 + p.w]);
  const y = d3.scaleLog().domain([Math.pow(10, p.yd[0]), Math.pow(10, p.yd[1])]).range([p.y0 + p.h, p.y0]);
  const Y = (v: number) => y(Math.pow(10, v));
  const dec = d3.range(Math.ceil(p.yd[0] + 0.01), Math.floor(p.yd[1] - 0.01) + 1);
  const bottom = p.y0 + p.h, right = p.x0 + p.w;
  const xmax = p.xd[1] + 0.006 * (p.xd[1] - p.xd[0]);
  const clip = `url(#${id})`;
  return (
    <g>
      <defs><clipPath id={id}><rect x={p.x0} y={p.y0} width={p.w} height={p.h} /></clipPath></defs>
      <rect x={p.x0} y={p.y0} width={p.w} height={p.h} fill={p.bg} />
      {p.series.map((s, k) => {
        if (s.kind === "sq") {
          return (
            <g key={k} fill="none" stroke={SQ} strokeWidth={1} strokeOpacity={0.9}>
              {s.e!.map((e, i) => {
                const v = s.v![i];
                if (v == null || Math.abs(e) > xmax) return null;
                return <rect key={i} x={x(e) - 3.5} y={Y(v) - 3.5} width={7} height={7} />;
              })}
            </g>
          );
        }
        if (s.kind === "dash") {
          const yy = Y(s.level!);
          return <line key={k} clipPath={clip} x1={p.x0} x2={right} y1={yy} y2={yy} stroke="#000" strokeWidth={2} strokeDasharray="8 15" strokeDashoffset={7} />;
        }
        const pts = s.e!.map((e, i) => [e, s.v![i]] as [number, number | null]);
        const gen = d3.line<[number, number | null]>()
          .defined((d) => d[1] != null)
          .x((d) => x(d[0]))
          .y((d) => Y(d[1] as number))
          .curve(s.smooth ? d3.curveMonotoneX : d3.curveLinear);
        return <path key={k} clipPath={clip} d={gen(pts) || ""} fill="none" stroke={s.color} strokeWidth={s.width} strokeLinejoin="round" />;
      })}
      <rect x={p.x0} y={p.y0} width={p.w} height={p.h} fill="none" stroke="#3a3a3a" strokeWidth={1} />
      <g stroke="#3a3a3a" strokeWidth={1}>
        {p.xt.map((t, i) => (
          <g key={"xt" + i}>
            <line x1={x(t)} x2={x(t)} y1={bottom} y2={bottom - 3} />
            <line x1={x(t)} x2={x(t)} y1={p.y0} y2={p.y0 + 3} />
          </g>
        ))}
        {dec.map((t, i) => (
          <g key={"yt" + i}>
            <line x1={p.x0} x2={p.x0 + 3} y1={Y(t)} y2={Y(t)} />
            <line x1={right} x2={right - 3} y1={Y(t)} y2={Y(t)} />
          </g>
        ))}
      </g>
      {p.yl.map(([v, s], i) => (
        <text key={"yl" + i} x={p.x0 - 4} y={Y(v) + 5} textAnchor="end" fontSize={p.ylSize} fill="#222">{s}</text>
      ))}
      {p.xl.map(([v, s], i) => (
        <text key={"xl" + i} x={x(v)} y={bottom + 17} textAnchor="middle" fontSize={p.xlSize} fill="#222">{s}</text>
      ))}
      <text x={right - p.tx} y={p.y0 + p.ty} textAnchor="end" fontFamily={TFONT} fontSize={18} fill="#151515">{p.T}</text>
    </g>
  );
}

function Eres({ x, y, val }: { x: number; y: number; val: string }) {
  return (
    <text x={x} y={y} fontSize={24} fill="#111">
      E<tspan fontSize={16} dy={6}>res</tspan><tspan dy={-6}>{` = ${val} μeV`}</tspan>
    </text>
  );
}

export default function App() {
  const all = [...AL, ...AR, ...BL, ...BR];
  return (
    <svg width={1253} height={843} style={{ position: "absolute", left: 0, top: 0, display: "block" }} fontFamily={FONT}>
      <rect width={1253} height={843} fill="#ffffff" />
      <text x={10} y={24} fontSize={22} fill="#111">A</text>
      <text x={717} y={23} fontSize={20} textAnchor="middle" fill="#111">
        PTI·H<tspan fontSize={14} dy={5}>2</tspan><tspan dy={-5}>O (atmospheric moisture hydrated)</tspan>
      </text>
      <Eres x={102} y={69} val="25" />
      <Eres x={668} y={69} val="3.5" />
      <text x={1098} y={72} fontSize={24} fill="#111">Q = 1.2 Å<tspan fontSize={15} dy={-10}>-1</tspan></text>

      <text x={10} y={575} fontSize={22} fill="#111">B</text>
      <text x={655} y={574} fontSize={20} textAnchor="middle" fill="#111">IF-PTI</text>
      <Eres x={102} y={636} val="25" />
      <Eres x={668} y={636} val="1" />

      <text transform="translate(37,288) rotate(-90)" textAnchor="middle" fontSize={24} fill="#111">S (Q,ω)</text>
      <text transform="translate(37,705) rotate(-90)" textAnchor="middle" fontSize={24} fill="#111">S (Q,ω)</text>

      <text x={355} y={532} fontSize={24} textAnchor="middle" fill="#111">ΔE (meV)</text>
      <text x={971} y={392} fontSize={24} textAnchor="middle" fill="#111">ΔE (meV)</text>
      <text x={355} y={826} fontSize={24} textAnchor="middle" fill="#111">ΔE (meV)</text>
      <text x={971} y={826} fontSize={24} textAnchor="middle" fill="#111">ΔE (meV)</text>

      {all.map((p, i) => <PanelView key={i} p={p} id={"clp" + i} />)}

      {problems.length > 0 && (
        <text x={10} y={838} fontSize={10} fill="red">{problems.join(" ")}</text>
      )}
    </svg>
  );
}
